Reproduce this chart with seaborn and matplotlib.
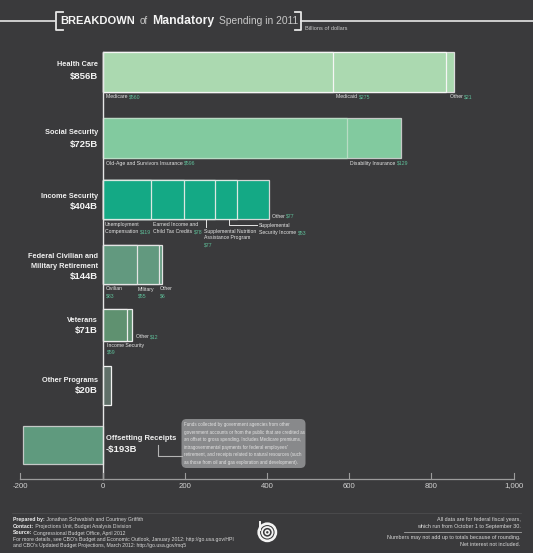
import matplotlib
matplotlib.use("Agg")
import matplotlib.pyplot as plt
import pandas as pd
import seaborn as sns
from matplotlib.patches import FancyBboxPatch

BG = "#3a3a3c"
LIGHT = "#e6e6e6"
GREEN = "#5fc09a"
FONT = ["Liberation Sans", "DejaVu Sans"]

# Spending in billions of dollars
health_care = [560, 275, 21]
social_security = [596, 129]
income_security = [119, 78, 77, 53, 77]
federal_retirement = [83, 55, 6]
veterans = [59, 12]
other_programs = [20]
offsetting_receipts = [-193]

categories = ["Health Care", "Social Security", "Income Security",
              "Federal Civilian and\nMilitary Retirement", "Veterans", "Other Programs"]
category_totals = ["$856B", "$725B", "$404B", "$144B", "$71B", "$20B"]
tick_values = [-200, 0, 200, 400, 600, 800, 1000]
tick_labels = ["-200", "0", "200", "400", "600", "800", "1,000"]

rows = [health_care, social_security, income_security, federal_retirement,
        veterans, other_programs, offsetting_receipts]
row_tops = [52, 118, 180, 245, 309, 366, 426]
row_bottoms = [92, 158, 219, 284, 341, 405, 464]
row_colors = ["#abd9b0", "#82ca9f", "#14a985", "#62997f", "#5f9170", "#5f6f68", "#5f9a7e"]
row_edges = ["#dcdcdc", "#c4c8c6", "#d4d8d6", "#e4e4e4", "#ececec", "#f2f2f2", "#c4c8c6"]
divider_colors = ["#f6f6f6", "#b8dcc4", "#dce8e2", "#e4e4e4", "#ececec", "#f2f2f2", "#c4c8c6"]

W, H = 533, 553
fig = plt.figure(figsize=(W / 100, H / 100), dpi=100, facecolor=BG)

# Horizontal scale: pixels per billion, with zero at the baseline
ZERO_PX = 102.6
PX_PER_UNIT = (513.5 - ZERO_PX) / 1000
x_limits = (-ZERO_PX / PX_PER_UNIT, (W - ZERO_PX) / PX_PER_UNIT)


def to_px(value):
    return ZERO_PX + value * PX_PER_UNIT


# Chart axes measured in figure pixels vertically so bands can differ in height
ax = fig.add_axes([0, 0, 1, 1], facecolor="none")

px = fig.add_axes([0, 0, 1, 1], facecolor="none", zorder=3)
px.set_xlim(0, W)
px.set_ylim(H, 0)
px.axis("off")

for values, top, bottom, color, edge, divider in zip(
        rows, row_tops, row_bottoms, row_colors, row_edges, divider_colors):
    # Draw running totals from longest to shortest so each segment overlays the last
    running = pd.Series(values).cumsum().tolist()
    for i, total in enumerate(reversed(running)):
        frame = pd.DataFrame({"amount": [total], "row": [(top + bottom) / 2]})
        sns.barplot(data=frame, x="amount", y="row", orient="h", native_scale=True,
                    width=bottom - top, color=color, saturation=1, ax=ax,
                    edgecolor=edge if i == 0 else divider, linewidth=0.9, err_kws={"linewidth": 0})
ax.set_xlim(*x_limits)
ax.set_ylim(H, 0)
ax.axis("off")


def label(x, y, text, size=3.7, color=LIGHT, ha="left", va="center", weight="normal", **kw):
    return px.text(x, y, text, fontsize=size, color=color, ha=ha, va=va,
                   fontweight=weight, family=FONT, **kw)


def pair(x, y, name, value, size=3.7):
    """Segment name in light grey followed by its amount in green."""
    t = label(x, y, name + " ", size=size)
    fig.canvas.draw()
    end = t.get_window_extent().transformed(px.transData.inverted()).x1
    label(end, y, value, size=size, color=GREEN)


# Zero line and value axis
px.plot([102.6, 102.6], [52, 479], color=LIGHT, lw=1.0, zorder=0)
px.plot([to_px(-200), to_px(1000)], [479, 479], color="#9c9c9c", lw=0.9)
for v, lab in zip(tick_values, tick_labels):
    xp = to_px(v)
    px.plot([xp, xp], [473, 479], color="#9c9c9c", lw=0.8)
    label(xp, 486, lab, size=5.6, color="#d2d2d2", ha="center")

# Title with bracket rules
px.plot([0, 55], [20.5, 20.5], color=LIGHT, lw=1.2)
px.plot([301, W], [20.5, 20.5], color=LIGHT, lw=1.2)
px.plot([63, 55.5, 55.5, 63], [11.5, 11.5, 30, 30], color=LIGHT, lw=1.3)
px.plot([295, 301, 301, 295], [11.5, 11.5, 30, 30], color=LIGHT, lw=1.3)
label(60, 21, "BREAKDOWN", size=8.0, color="#f4f4f4", weight="bold")
label(140, 21.5, "of", size=7.0, color="#c8c8c8")
label(152, 21, "Mandatory", size=8.8, color="#f4f4f4", weight="bold")
label(219, 21.5, "Spending in 2011", size=7.4, color="#c8c8c8")
label(305, 28.5, "Billions of dollars", size=4.1, color="#c8c8c8")

# Category names and totals
name_ys = [(65, 77), (132, 144), (196, 207), (256, 266, 276), (320, 331), (381, 391)]
for name, total, ys in zip(categories, category_totals, name_ys):
    lines = name.split("\n")
    for line, y in zip(lines, ys):
        label(98, y, line, size=5.3, color="#f0f0f0", ha="right", weight="bold")
    label(98, ys[-1], total, size=6.8, color="#f4f4f4", ha="right", weight="bold")

label(106, 438.7, "Offsetting Receipts", size=5.5, color="#f0f0f0", weight="bold")
label(106, 449.5, "-$193B", size=6.8, color="#f4f4f4", weight="bold")

# Segment labels
pair(106, 97, "Medicare", "$560")
pair(336, 97, "Medicaid", "$275")
pair(450, 97, "Other", "$21")
pair(106, 163, "Old-Age and Survivors Insurance", "$596")
pair(350, 163, "Disability Insurance", "$129")
pair(272, 216, "Other", "$77")
label(105, 224.7, "Unemployment")
pair(105, 231.7, "Compensation", "$119")
label(153, 224.7, "Earned Income and")
pair(153, 231.7, "Child Tax Credits", "$78")
label(204, 231, "Supplemental Nutrition")
label(204, 238, "Assistance Program")
label(204, 245, "$77", color=GREEN)
label(259, 226, "Supplemental")
pair(259, 232.7, "Security Income", "$53")
px.plot([205.5, 205.5], [219, 227], color=LIGHT, lw=0.7)
px.plot([228.7, 228.7, 256.5], [219, 225, 225], color=LIGHT, lw=0.7)
label(106, 289, "Civilian")
label(106, 295.7, "$83", color=GREEN)
label(138, 289, "Military")
label(138, 295.7, "$55", color=GREEN)
label(160, 289, "Other")
label(160, 295.7, "$6", color=GREEN)
pair(136, 336.7, "Other", "$12")
label(107, 345.6, "Income Security")
label(107, 352, "$59", color=GREEN)

# Offsetting receipts callout
px.add_patch(FancyBboxPatch((181.5, 419), 124, 49, boxstyle="round,pad=0,rounding_size=5",
                            fc="#88898b", ec="none"))
px.plot([158, 158, 182], [445, 456, 456], color="#b4b4b4", lw=0.8)
note = ["Funds collected by government agencies from other",
        "government accounts or from the public that are credited as",
        "an offset to gross spending. Includes Medicare premiums,",
        "intragovernmental payments for federal employees'",
        "retirement, and receipts related to natural resources (such",
        "as those from oil and gas exploration and development)."]
for i, line in enumerate(note):
    label(184.5, 424.5 + i * 7.6, line, size=3.25, color="#e2e2e2")

# Footer
px.plot([12, 521], [513, 513], color="#4c4c4e", lw=0.6)
left_notes = [("Prepared by:", " Jonathan Schwabish and Courtney Griffith", 520),
              ("Contact:", " Projections Unit, Budget Analysis Division", 526.7),
              ("Source:", " Congressional Budget Office, April 2012", 533)]
for head, rest, y in left_notes:
    t = label(13, y, head, size=3.7, color="#f0f0f0", weight="bold")
    fig.canvas.draw()
    end = t.get_window_extent().transformed(px.transData.inverted()).x1
    label(end, y, rest, size=3.7, color="#d8d8d8")
label(13, 539.5, "For more details, see CBO's Budget and Economic Outlook, January 2012: http://go.usa.gov/HPI",
      size=3.7, color="#d8d8d8")
label(13, 546, "and CBO's Updated Budget Projections, March 2012: http://go.usa.gov/mq5", size=3.7, color="#d8d8d8")
label(520.5, 520, "All data are for federal fiscal years,", size=3.9, color="#d8d8d8", ha="right")
label(520.5, 526.7, "which run from October 1 to September 30.", size=3.9, color="#d8d8d8", ha="right")
px.plot([404, 520.5], [532, 532], color="#a4a4a4", lw=0.6)
label(520.5, 537.7, "Numbers may not add up to totals because of rounding.", size=3.9, color="#d8d8d8", ha="right")
label(520.5, 544, "Net interest not included.", size=3.9, color="#d8d8d8", ha="right")

# Agency mark
for r, lw in [(8.6, 1.9), (5.3, 1.3)]:
    px.add_patch(plt.Circle((267.3, 532.3), r, fc="none", ec="#f4f4f4", lw=lw))
px.add_patch(plt.Circle((267.3, 532.3), 2.8, fc="#f4f4f4", ec="none"))
px.add_patch(plt.Circle((267.3, 532.3), 1.2, fc=BG, ec="none"))
px.plot([260, 260], [522, 530], color="#f4f4f4", lw=1.4)

fig.savefig("out.png", dpi=100, facecolor=BG)
